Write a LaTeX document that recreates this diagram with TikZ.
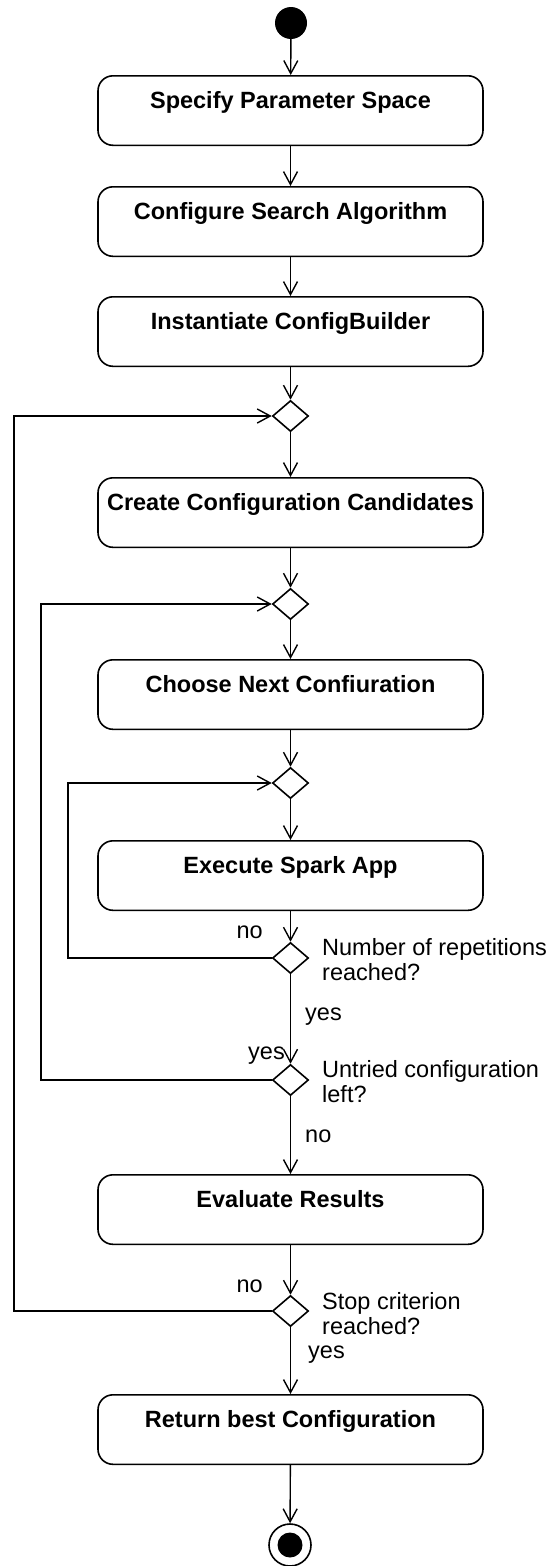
\documentclass[tikz,border=0pt]{standalone}
\usepackage{fontspec}
\setmainfont{Liberation Sans}
\usetikzlibrary{arrows.meta,shapes.geometric}
\begin{document}
\begin{tikzpicture}[x=1pt,y=-1pt,
  every node/.style={font=\fontsize{23.5}{24.5}\selectfont},
  action/.style={draw, line width=1.6pt, rounded corners=15pt,
    minimum width=385pt, inner xsep=0pt, inner ysep=7pt,
    text height=25.5pt, text depth=30pt, anchor=north,
    font=\bfseries\fontsize{23.5}{24.5}\selectfont},
  decision/.style={draw, shape=diamond, line width=1.6pt,
    minimum width=36pt, minimum height=31pt, inner sep=0pt},
  flow/.style={line width=1.4pt,
    -{Straight Barb[length=13pt,width=14pt,line width=1.4pt]}},
  guard/.style={inner sep=0pt, anchor=base},
  cond/.style={inner sep=0pt, align=left, anchor=base west}
]
\useasboundingbox (0,0) rectangle (551,1566);

% initial and final states
\node[circle, fill, minimum size=32pt, inner sep=0pt] (start) at (291,23) {};
\node[circle, draw, line width=1.6pt, minimum size=42pt, inner sep=0pt] (stop) at (290,1545) {};
\node[circle, fill, minimum size=25pt, inner sep=0pt] (stopdot) at (290,1545) {};

% actions
\node[action] (spec)   at (290.5,75)   {Specify Parameter Space};
\node[action] (conf)   at (290.5,186)  {Configure Search Algorithm};
\node[action] (inst)   at (290.5,296)  {Instantiate ConfigBuilder};
\node[action] (create) at (290.5,477)  {Create Configuration Candidates};
\node[action] (choose) at (290.5,659)  {Choose Next Confiuration};
\node[action] (exec)   at (290.5,840)  {Execute Spark App};
\node[action] (eval)   at (290.5,1174) {Evaluate Results};
\node[action] (ret)    at (290.5,1394) {Return best Configuration};

% merge and decision points
\node[decision] (m1) at (290.5,416)  {};
\node[decision] (m2) at (290.5,604)  {};
\node[decision] (m3) at (290.5,783)  {};
\node[decision] (d1) at (290.5,958)  {};
\node[decision] (d2) at (290.5,1080) {};
\node[decision] (d3) at (290.5,1311) {};

% main flow
\draw[flow] (start) -- (spec);
\draw[flow] (spec) -- (conf);
\draw[flow] (conf) -- (inst);
\draw[flow] (inst) -- (m1);
\draw[flow] (m1) -- (create);
\draw[flow] (create) -- (m2);
\draw[flow] (m2) -- (choose);
\draw[flow] (choose) -- (m3);
\draw[flow] (m3) -- (exec);
\draw[flow] (exec) -- (d1);
\draw[flow] (d1) -- (d2);
\draw[flow] (d2) -- (eval);
\draw[flow] (eval) -- (d3);
\draw[flow] (d3) -- (ret);
\draw[flow] (ret) -- (stop);

% loops back
\draw[flow] (d1.west) -- (68,958)  |- (m3.west);
\draw[flow] (d2.west) -- (41,1080) |- (m2.west);
\draw[flow] (d3.west) -- (14,1311) |- (m1.west);

% guards
\node[guard, anchor=base east] (g1no)  at (263,938)  {no};
\node[guard, anchor=base west] (g1yes) at (305,1020) {yes};
\node[guard, anchor=base east] (g2yes) at (285,1059) {yes};
\node[guard, anchor=base west] (g2no)  at (305,1142) {no};
\node[guard, anchor=base east] (g3no)  at (263,1292) {no};
\node[guard, anchor=base west] (g3yes) at (308,1358) {yes};

% decision questions (base = baseline of the last line)
\node[cond] (q1) at (322,980)  {Number of repetitions\\reached?};
\node[cond] (q2) at (322,1102) {Untried configuration\\left?};
\node[cond] (q3) at (322,1334) {Stop criterion\\reached?};
\end{tikzpicture}
\end{document}
